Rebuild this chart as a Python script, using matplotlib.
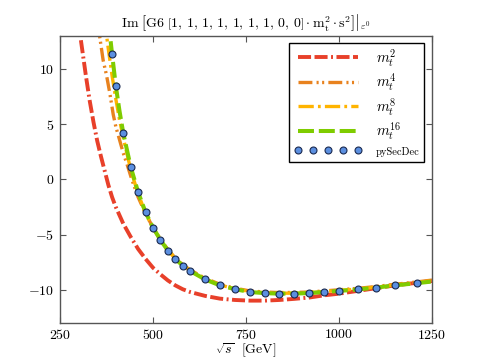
import numpy as np
import matplotlib
matplotlib.use("Agg")
import matplotlib.pyplot as plt

plt.rcParams['font.family'] = 'serif'
plt.rcParams['font.serif'] = ['cmr10']
plt.rcParams['mathtext.fontset'] = 'cm'
plt.rcParams['axes.formatter.use_mathtext'] = True
plt.rcParams['lines.scale_dashes'] = False

# ---- data ----
x_m2 = [300, 310, 320, 330, 340, 350, 360, 370, 380, 390, 400, 420, 440, 460, 480, 500,
        520, 540, 560, 580, 600, 640, 680, 720, 760, 800, 840, 880, 920, 960, 1000,
        1050, 1100, 1150, 1200, 1250]
y_m2 = [14.1, 11.7, 9.3, 7.1, 5.2, 3.5, 2.1, 0.8, -0.5, -1.6, -2.5, -4.0, -5.2, -6.3, -7.2, -8.0,
        -8.6, -9.15, -9.6, -9.95, -10.2, -10.55, -10.8, -10.92, -10.98, -10.98, -10.92, -10.82,
        -10.7, -10.5, -10.35, -10.1, -9.85, -9.6, -9.4, -9.2]

x_m4 = [350, 356, 366, 375, 384, 393, 400, 410, 420, 430, 443, 460, 480, 500, 520, 540, 560,
        580, 600, 640, 680, 720, 760, 800, 840, 880, 920, 960, 1000, 1050, 1100, 1150, 1200, 1250]
y_m4 = [14.6, 13.1, 10.8, 9.45, 7.8, 5.9, 4.8, 3.6, 2.4, 1.4, 0.0, -1.6, -3.1, -4.35, -5.4, -6.35,
        -7.12, -7.72, -8.2, -8.95, -9.5, -9.85, -10.1, -10.2, -10.25, -10.24, -10.2, -10.1, -10.0,
        -9.87, -9.7, -9.5, -9.32, -9.12]

x_m8 = [370, 375, 380, 390, 400, 410, 420, 440, 460, 480, 500, 520, 540, 560, 580, 600, 640,
        680, 720, 760, 800, 840, 880, 920, 960, 1000, 1050, 1100, 1150, 1200, 1250]
y_m8 = [14.5, 13.1, 11.8, 9.4, 7.3, 5.4, 3.8, 0.9, -1.3, -3.05, -4.4, -5.47, -6.42, -7.17, -7.76,
        -8.26, -9.02, -9.56, -9.9, -10.16, -10.26, -10.31, -10.3, -10.26, -10.16, -10.06, -9.93,
        -9.76, -9.56, -9.38, -9.18]

x_m16 = [380, 390, 400, 410, 420, 440, 460, 480, 500, 520, 540, 560, 580, 600, 640, 680, 720,
         760, 800, 840, 880, 920, 960, 1000, 1050, 1100, 1150, 1200, 1250]
y_m16 = [14.4, 11.36, 8.48, 6.2, 4.21, 1.15, -1.15, -2.97, -4.36, -5.48, -6.45, -7.21, -7.8,
         -8.3, -9.06, -9.6, -9.94, -10.2, -10.3, -10.35, -10.34, -10.3, -10.2, -10.1, -9.97,
         -9.8, -9.6, -9.43, -9.25]

x_psd = [390, 400, 420, 440, 460, 480, 500, 520, 540, 560, 580, 600, 640, 680, 720, 760, 800,
         840, 880, 920, 960, 1000, 1050, 1100, 1150, 1210]
y_psd = [11.36, 8.48, 4.21, 1.15, -1.15, -2.97, -4.36, -5.48, -6.45, -7.21, -7.8, -8.3, -9.06,
         -9.6, -9.94, -10.2, -10.3, -10.35, -10.34, -10.3, -10.2, -10.1, -9.97, -9.8, -9.6, -9.4]

labels = [r'$m_t^2$', r'$m_t^4$', r'$m_t^8$', r'$m_t^{16}$', 'pySecDec']
xticks = [250, 500, 750, 1000, 1250]
yticks = [-10, -5, 0, 5, 10]

c_red = '#e8402a'
c_orange = '#e8821e'
c_yellow = '#ffb400'
c_green = '#7fcc00'
c_blue = '#5b8fe0'

fig = plt.figure(figsize=(4.8, 3.6), dpi=100)
ax = fig.add_axes([0.125, 0.103, 0.775, 0.797])

ax.plot(x_m2, y_m2, color=c_red, lw=2.8, dashes=(9.4, 2.5, 9.4, 2.5, 1.4, 2.5),
        label=labels[0], dash_capstyle='butt')
ax.plot(x_m4, y_m4, color=c_orange, lw=2.4, dashes=(10, 3, 1.5, 2.5, 1.5, 3),
        label=labels[1])
ax.plot(x_m8, y_m8, color=c_yellow, lw=2.4, dashes=(11, 3, 2, 3),
        label=labels[2])
ax.plot(x_m16, y_m16, color=c_green, lw=2.9, dashes=(11.5, 3.5),
        label=labels[3])
ax.plot(x_psd, y_psd, ls='none', marker='o', ms=5, mfc=c_blue, mec='#1a2a50', mew=0.8,
        label=labels[4])

ax.set_xlim(250, 1250)
ax.set_ylim(-13, 13)
ax.set_xticks(xticks)
ax.set_yticks(yticks)
ax.tick_params(direction='in', top=True, right=True, length=4, width=0.8,
               color='#555555', labelsize=10, pad=4)
for s in ax.spines.values():
    s.set_color('#555555')
    s.set_linewidth(1.0)

ax.set_xlabel(r'$\sqrt{s}\ \ [\mathrm{GeV}]$', fontsize=10, labelpad=-1)
ax.set_title(r'$\left.\mathrm{Im}\ \left[\mathrm{G6}\ \left[1,\,1,\,1,\,1,\,1,\,1,\,1,\,0,\,0\right]\cdot\mathrm{m}_\mathrm{t}^2\cdot\mathrm{s}^2\right]\right|_{\varepsilon^0}$',
             fontsize=10, pad=6)

leg = ax.legend(loc='upper right', bbox_to_anchor=(0.979, 0.977), borderaxespad=0,
                fontsize=10.5, handlelength=4.7, handletextpad=0.95, numpoints=5,
                labelspacing=0.2, borderpad=0.3, fancybox=False, framealpha=1)
leg.get_frame().set_edgecolor('black')
leg.get_frame().set_linewidth(1.0)
leg.get_texts()[4].set_fontsize(7.5)

fig.savefig('out.png', dpi=100)
